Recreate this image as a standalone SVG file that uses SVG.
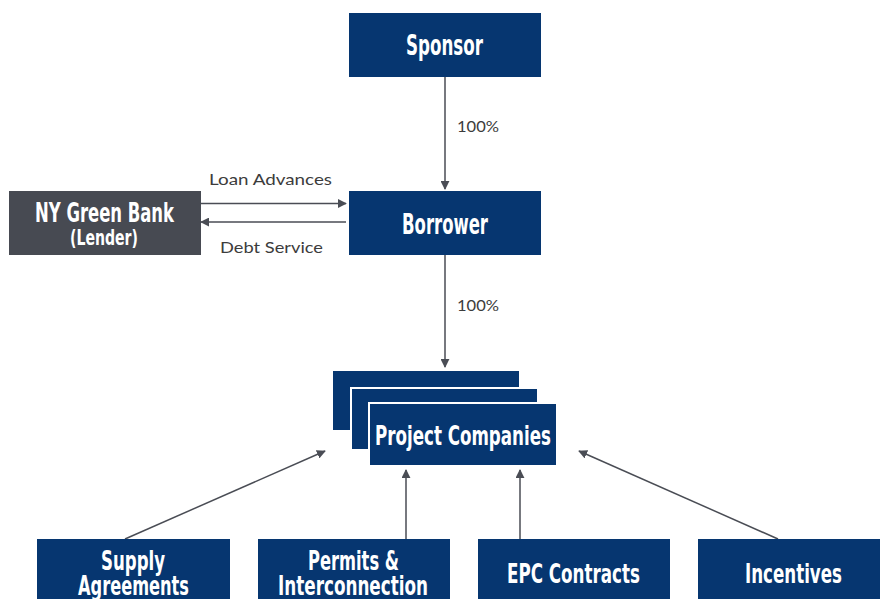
<svg xmlns="http://www.w3.org/2000/svg" width="880" height="599" viewBox="0 0 880 599">
  <style>
    .box { fill: #063670; }
    .lender { fill: #474a52; }
    .stack { fill: #063670; stroke: #ffffff; stroke-width: 2; }
    .title { font-family: "DejaVu Sans Condensed", "DejaVu Sans", sans-serif; font-weight: bold; fill: #ffffff; text-anchor: middle; }
    .lbl { font-family: Lato, "Open Sans", sans-serif; font-size: 16px; fill: #3c3c3c; }
    .conn { stroke: #4a4d55; stroke-width: 1.5; fill: none; marker-end: url(#arrow); }
  </style>
  <defs>
    <marker id="arrow" viewBox="0 0 10 10" refX="9" refY="5" markerWidth="9" markerHeight="9" markerUnits="userSpaceOnUse" orient="auto">
      <path d="M0,0 L10,5 L0,10 z" fill="#4a4d55"/>
    </marker>
  </defs>
  <rect width="880" height="599" fill="#ffffff"/>

  <g id="connectors">
    <line class="conn" x1="445" y1="77" x2="445" y2="189"/>
    <line class="conn" x1="445" y1="255" x2="445" y2="367"/>
    <line class="conn" x1="201" y1="203.5" x2="346" y2="203.5"/>
    <line class="conn" x1="346" y1="222" x2="201" y2="222"/>
    <line class="conn" x1="125" y1="539" x2="325" y2="451"/>
    <line class="conn" x1="406" y1="539" x2="406" y2="470"/>
    <line class="conn" x1="520" y1="539" x2="520" y2="470"/>
    <line class="conn" x1="778" y1="539" x2="579" y2="451"/>
    <text class="lbl" x="457" y="132" textLength="42" lengthAdjust="spacingAndGlyphs">100%</text>
    <text class="lbl" x="457" y="311" textLength="42" lengthAdjust="spacingAndGlyphs">100%</text>
    <text class="lbl" x="209" y="185" textLength="123" lengthAdjust="spacingAndGlyphs">Loan Advances</text>
    <text class="lbl" x="220" y="253" textLength="103" lengthAdjust="spacingAndGlyphs">Debt Service</text>
  </g>

  <g id="sponsor">
    <rect class="box" x="349" y="13" width="192" height="64"/>
    <text class="title" x="444.5" y="55" font-size="29" textLength="77" lengthAdjust="spacingAndGlyphs">Sponsor</text>
  </g>

  <g id="borrower">
    <rect class="box" x="349" y="191" width="192" height="64"/>
    <text class="title" x="445" y="234" font-size="29" textLength="86" lengthAdjust="spacingAndGlyphs">Borrower</text>
  </g>

  <g id="lender">
    <rect class="lender" x="9" y="191" width="192" height="64"/>
    <text class="title" x="104.5" y="222" font-size="26" textLength="139" lengthAdjust="spacingAndGlyphs">NY Green Bank</text>
    <text class="title" x="104" y="245" font-size="21" textLength="68" lengthAdjust="spacingAndGlyphs">(Lender)</text>
  </g>

  <g id="project-companies">
    <rect class="stack" x="332" y="370" width="188" height="61"/>
    <rect class="stack" x="351" y="388" width="187" height="62"/>
    <rect class="stack" x="369" y="403" width="188" height="63"/>
    <text class="title" x="463" y="445" font-size="26" textLength="176" lengthAdjust="spacingAndGlyphs">Project Companies</text>
  </g>

  <g id="supply-agreements">
    <rect class="box" x="37" y="539" width="193" height="64"/>
    <text class="title" x="133" y="570" font-size="27" textLength="64" lengthAdjust="spacingAndGlyphs">Supply</text>
    <text class="title" x="133.5" y="595" font-size="27" textLength="111" lengthAdjust="spacingAndGlyphs">Agreements</text>
  </g>

  <g id="permits-interconnection">
    <rect class="box" x="258" y="539" width="192" height="64"/>
    <text class="title" x="353.5" y="570" font-size="27" textLength="91" lengthAdjust="spacingAndGlyphs">Permits &amp;</text>
    <text class="title" x="353" y="595" font-size="27" textLength="150" lengthAdjust="spacingAndGlyphs">Interconnection</text>
  </g>

  <g id="epc-contracts">
    <rect class="box" x="478" y="539" width="192" height="64"/>
    <text class="title" x="573.5" y="583" font-size="27" textLength="133" lengthAdjust="spacingAndGlyphs">EPC Contracts</text>
  </g>

  <g id="incentives">
    <rect class="box" x="698" y="539" width="192" height="64"/>
    <text class="title" x="793.5" y="583" font-size="27" textLength="97" lengthAdjust="spacingAndGlyphs">Incentives</text>
  </g>
</svg>
